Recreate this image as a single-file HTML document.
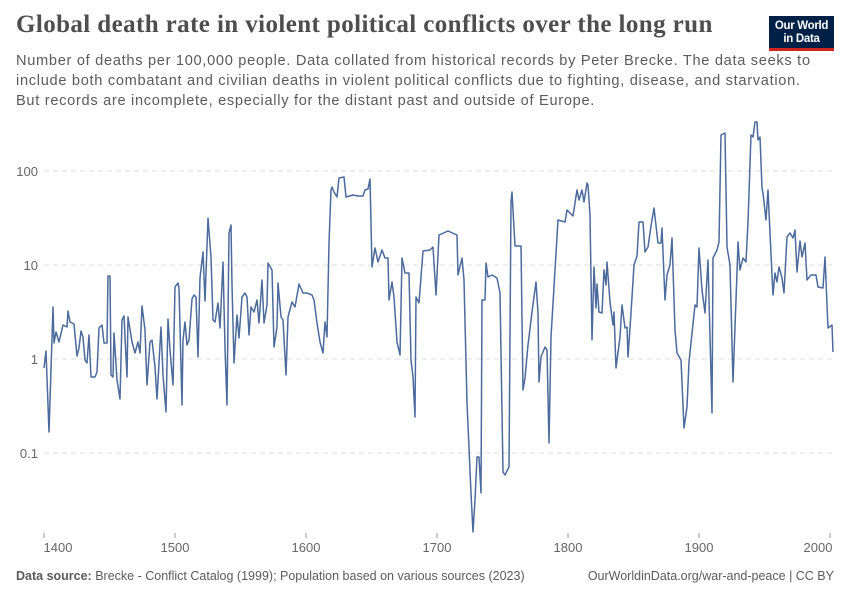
<!DOCTYPE html>
<html><head><meta charset="utf-8"><style>
body{margin:0;background:#fff;width:850px;height:600px;overflow:hidden;font-family:"Liberation Sans",sans-serif;}
.t{position:absolute;left:16px;top:11px;font-family:"Liberation Serif",serif;font-size:25px;font-weight:bold;color:#4e4e4e;letter-spacing:0.4px;white-space:nowrap}
.s{position:absolute;left:16px;top:51px;font-size:14.6px;line-height:20px;color:#5b5b5b;white-space:nowrap;letter-spacing:0.7px}
.logo{position:absolute;left:769px;top:16px;width:65px;height:35px;background:#002147;border-bottom:3px solid #ce261e;box-sizing:border-box;color:#fff;font-size:11.5px;line-height:13px;text-align:center;padding-top:4px;font-weight:bold;letter-spacing:-0.3px}
.f{position:absolute;top:569px;font-size:12.5px;color:#5b5b5b}
</style></head><body>
<div class="t">Global death rate in violent political conflicts over the long run</div>
<div class="s">Number of deaths per 100,000 people. Data collated from historical records by Peter Brecke. The data seeks to<br>include both combatant and civilian deaths in violent political conflicts due to fighting, disease, and starvation.<br>But records are incomplete, especially for the distant past and outside of Europe.</div>
<div class="logo">Our World<br>in Data</div>
<svg width="850" height="600" style="position:absolute;left:0;top:0" font-family="Liberation Sans, sans-serif">
<g stroke="#dcdcdc" stroke-dasharray="5,4" stroke-width="1">
<line x1="44" x2="834" y1="171" y2="171"/><line x1="44" x2="834" y1="265" y2="265"/><line x1="44" x2="834" y1="359" y2="359"/><line x1="44" x2="834" y1="453" y2="453"/>
</g>
<g fill="#666" font-size="13" text-anchor="end">
<text x="38" y="176">100</text><text x="38" y="270">10</text><text x="38" y="364">1</text><text x="38" y="458">0.1</text>
</g>
<g stroke="#999"><line x1="44" x2="44" y1="533" y2="538"/><line x1="175" x2="175" y1="533" y2="538"/><line x1="306" x2="306" y1="533" y2="538"/><line x1="437" x2="437" y1="533" y2="538"/><line x1="568" x2="568" y1="533" y2="538"/><line x1="699" x2="699" y1="533" y2="538"/><line x1="830" x2="830" y1="533" y2="538"/></g>
<g fill="#666" font-size="13" text-anchor="middle">
<text x="58" y="552">1400</text><text x="175" y="552">1500</text><text x="306" y="552">1600</text><text x="437" y="552">1700</text><text x="568" y="552">1800</text><text x="699" y="552">1900</text><text x="818" y="552">2000</text>
</g>
<polyline fill="none" stroke="#4c6a9c" stroke-width="1.5" stroke-linejoin="round" points="44,368 46,351 49,432 53,307 54,343 56,332 59,342 63,325 67,327 68,311 70,322 74,324 77,356 79,348 81,331 83,337 85,360 87,363 89,335 91,377 95,377 97,372 99,328 102,325 104,343 107,343 108,276 110,276 111,375 113,377 114,333 117,380 120,399 122,320 124,316 127,377 128,317 132,342 135,353 138,342 140,353 142,306 145,330 147,385 150,342 152,340 155,367 157,399 161,327 163,375 166,412 168,319 170,350 173,385 175,287 178,283 179,288 182,405 183,340 185,322 187,345 189,340 192,299 194,295 196,297 198,357 200,278 203,252 205,301 208,218 211,257 213,320 215,322 218,303 220,328 223,262 225,348 227,405 229,233 231,225 232,285 234,363 237,315 239,338 242,297 245,293 247,297 249,335 251,307 254,312 257,300 259,323 262,280 264,323 267,305 268,263 272,270 274,347 277,327 278,283 281,317 283,320 286,375 288,317 292,302 295,307 299,284 303,293 307,293 312,295 314,300 317,323 320,342 323,353 325,322 327,337 329,243 331,190 332,187 334,192 337,197 339,178 344,177 346,197 353,195 358,196 363,196 365,190 368,189 370,179 372,267 375,248 378,262 382,250 385,258 388,258 389,300 392,282 394,297 397,342 400,355 402,258 405,273 409,273 411,360 413,377 415,417 416,297 419,303 423,251 430,250 433,247 436,295 439,235 448,231 457,235 458,275 462,258 464,280 467,403 471,493 473,532 475,500 477,457 479,457 481,493 482,300 485,300 486,263 488,277 492,275 497,278 500,293 503,472 505,475 509,467 511,202 512,192 515,246 521,246 523,390 525,378 528,345 532,312 536,282 538,313 539,382 541,357 545,347 547,350 549,443 551,337 555,270 558,220 565,222 567,210 570,213 573,216 575,203 577,190 579,200 582,190 584,202 587,183 588,185 590,215 592,340 594,267 596,308 597,284 599,312 602,313 604,270 606,285 607,262 610,302 613,325 614,312 616,368 620,337 622,305 625,328 627,327 628,357 631,313 634,265 637,256 639,222 643,222 645,252 648,247 651,226 654,208 658,243 661,243 662,228 665,300 667,275 670,265 672,238 675,330 677,353 681,360 684,428 687,407 689,362 695,305 697,307 699,248 702,290 705,313 708,260 712,413 713,258 717,250 719,242 721,135 725,133 727,247 730,265 733,382 737,272 738,242 740,270 743,258 746,262 748,222 751,135 753,137 755,122 757,122 758,140 760,137 762,188 763,193 766,220 768,190 770,233 773,295 775,273 777,282 779,267 782,278 784,293 787,237 790,233 793,238 795,230 797,272 800,241 802,257 805,243 807,280 811,275 816,275 818,287 823,288 825,257 828,328 832,325 833,352"/>
</svg>
<div class="f" style="left:16px"><b>Data source:</b> Brecke - Conflict Catalog (1999); Population based on various sources (2023)</div>
<div class="f" style="right:16px">OurWorldinData.org/war-and-peace | CC BY</div>
</body></html>
